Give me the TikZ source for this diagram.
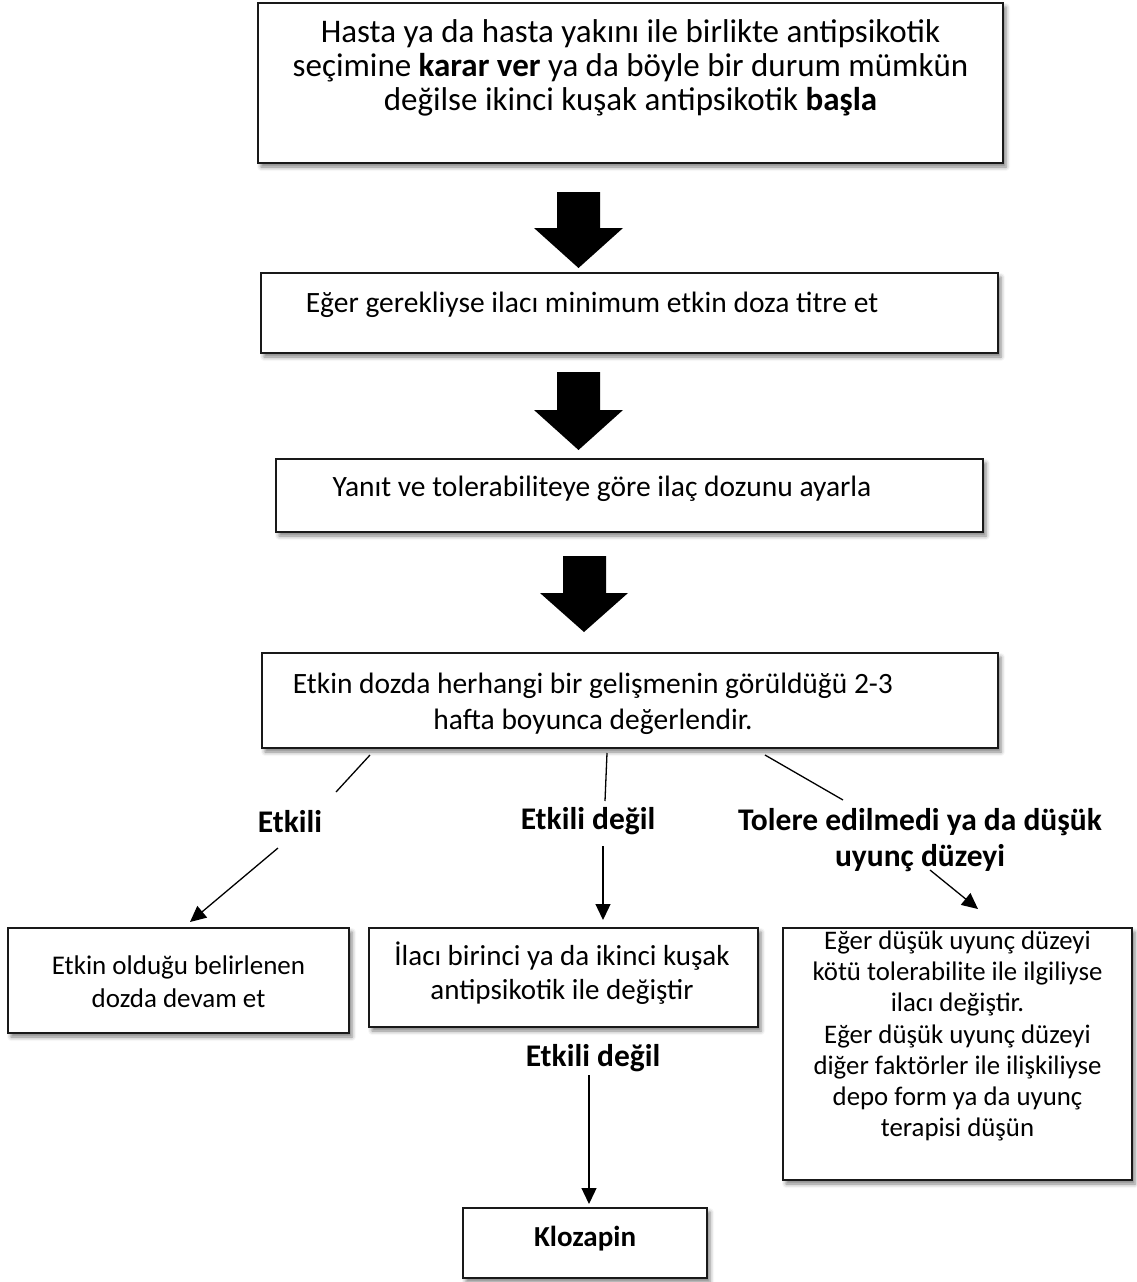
\documentclass[tikz,border=0pt]{standalone}
\usepackage{fontspec}
\setmainfont{Carlito}
\usetikzlibrary{arrows.meta,shadows.blur}
\tikzset{
  box/.style={draw=black!90, line width=2.8pt, fill=white, inner sep=0pt,
    blur shadow={shadow xshift=3pt, shadow yshift=-4pt, shadow blur radius=4pt, shadow opacity=50}},
  txt/.style={align=center, inner sep=0pt, font=\fontsize{29.5}{36}\selectfont},
  lbl/.style={align=center, inner sep=0pt, font=\fontsize{31.5}{36}\selectfont\bfseries},
  conn/.style={line width=1.3pt, black},
  arr/.style={conn, -{Triangle[length=16pt,width=15pt]}},
  bigarrow/.style={fill=black, draw=none}
}
\begin{document}
\begin{tikzpicture}[x=1pt,y=-1pt]
\useasboundingbox (0,0) rectangle (1136,1282);
% boxes
\node[box, minimum width=745pt, minimum height=160pt] (b1) at (630.5,83) {};
\node[txt, font=\fontsize{33}{34}\selectfont] (t1) at (630.5,68) {Hasta ya da hasta yakını ile birlikte antipsikotik\\seçimine \textbf{karar ver} ya da böyle bir durum mümkün\\değilse ikinci kuşak antipsikotik \textbf{başla}};
\node[box, minimum width=737pt, minimum height=80pt] (b2) at (629.5,313) {};
\node[txt] (t2) at (592,305) {Eğer gerekliyse ilacı minimum etkin doza titre et};
\node[box, minimum width=707pt, minimum height=73pt] (b3) at (629.5,495.5) {};
\node[txt] (t3) at (602,489) {Yanıt ve tolerabiliteye göre ilaç dozunu ayarla};
\node[box, minimum width=736pt, minimum height=95pt] (b4) at (630,700.5) {};
\node[txt] (t4) at (593,704) {Etkin dozda herhangi bir gelişmenin görüldüğü 2-3\\hafta boyunca değerlendir.};
\node[box, minimum width=341pt, minimum height=105pt] (b5) at (178.5,980.5) {};
\node[txt, font=\fontsize{27}{33}\selectfont] (t5) at (178.5,982) {Etkin olduğu belirlenen\\dozda devam et};
\node[box, minimum width=389pt, minimum height=99pt] (b6) at (563.5,977.5) {};
\node[txt, font=\fontsize{29}{34}\selectfont] (t6) at (562,973) {İlacı birinci ya da ikinci kuşak\\antipsikotik ile değiştir};
\node[box, minimum width=349pt, minimum height=252pt] (b7) at (957.5,1054) {};
\node[txt, font=\fontsize{26.8}{31.3}\selectfont] (t7) at (957.5,1036) {Eğer düşük uyunç düzeyi\\kötü tolerabilite ile ilgiliyse\\ilacı değiştir.\\Eğer düşük uyunç düzeyi\\diğer faktörler ile ilişkiliyse\\depo form ya da uyunç\\terapisi düşün};
\node[box, minimum width=244pt, minimum height=70pt] (b8) at (585,1243) {};
\node[txt, font=\fontsize{29}{34}\selectfont\bfseries] (t8) at (585,1239) {Klozapin};
% big arrows
\fill[bigarrow] (557,192) -- (600,192) -- (600,228) -- (623,228) -- (578.5,268) -- (534,228) -- (557,228) -- cycle;
\fill[bigarrow] (557,372) -- (600,372) -- (600,410) -- (623,410) -- (578.5,450) -- (534,410) -- (557,410) -- cycle;
\fill[bigarrow] (563,556) -- (606,556) -- (606,593) -- (628,593) -- (584,632) -- (540,593) -- (563,593) -- cycle;
% labels
\node[lbl] (l1) at (290,822) {Etkili};
\node[lbl] (l2) at (588,821) {Etkili değil};
\node[lbl] (l3) at (920,840) {Tolere edilmedi ya da düşük\\uyunç düzeyi};
\node[lbl] (l4) at (593,1058) {Etkili değil};
% connector coordinates
\coordinate (a1) at (370,755); \coordinate (a2) at (336,792);
\coordinate (a3) at (278,848); \coordinate (a4) at (190,922);
\coordinate (m1) at (607,753); \coordinate (m2) at (605,801);
\coordinate (m3) at (603,846); \coordinate (m4) at (603,920);
\coordinate (r1) at (765,755); \coordinate (r2) at (843,800);
\coordinate (r3) at (930,870); \coordinate (r4) at (978,909);
\coordinate (k1) at (589,1075); \coordinate (k2) at (589,1204);
\draw[conn] (a1) -- (a2);
\draw[arr] (a3) -- (a4);
\draw[conn] (m1) -- (m2);
\draw[arr] (m3) -- (m4);
\draw[conn] (r1) -- (r2);
\draw[arr] (r3) -- (r4);
\draw[arr] (k1) -- (k2);
\end{tikzpicture}
\end{document}
